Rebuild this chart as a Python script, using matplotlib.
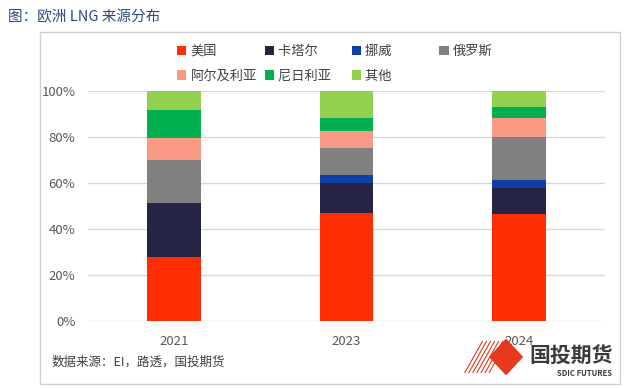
import numpy as np
import matplotlib.pyplot as plt
from matplotlib.patches import Rectangle, Polygon

plt.rcParams['font.family'] = ['Noto Sans CJK SC', 'DejaVu Sans']

years = ["2021", "2023", "2024"]
sources = ["美国", "卡塔尔", "挪威", "俄罗斯", "阿尔及利亚", "尼日利亚", "其他"]
us = [27.7, 46.8, 46.4]
qatar = [23.6, 13.3, 11.6]
norway = [0.0, 3.5, 3.4]
russia = [18.6, 11.6, 18.5]
algeria = [9.8, 7.3, 8.4]
nigeria = [12.0, 5.8, 4.9]
other = [8.3, 11.7, 6.8]
colors = ["#FF2E00", "#262445", "#0E3FA6", "#808080", "#FA9A85", "#00B050", "#92D050"]

series = [us, qatar, norway, russia, algeria, nigeria, other]

fig = plt.figure(figsize=(6.24, 3.88), dpi=100)
ax = fig.add_axes([0.141, 0.173, 0.829, 0.5925])

x = np.arange(len(years))
bottom = np.zeros(len(years))
handles = []
for name, vals, c in zip(sources, series, colors):
    b = ax.bar(x, vals, 0.31, bottom=bottom, color=c, label=name, zorder=3)
    handles.append(b)
    bottom += np.array(vals)

ax.set_xlim(-0.5, 2.5)
ax.set_ylim(0, 100)
ax.set_yticks(np.arange(0, 101, 20))
ax.set_yticklabels([f"{v}%" for v in range(0, 101, 20)])
ax.set_xticks(x)
ax.set_xticklabels(years)
ax.tick_params(axis='both', length=0, labelsize=9.5, colors="#595959")
ax.tick_params(axis='y', pad=9)
ax.tick_params(axis='x', pad=10)
ax.grid(axis='y', color="#D9D9D9", linewidth=1, zorder=0)
for s in ax.spines.values():
    s.set_visible(False)

# legend filled row by row; ideographic spaces keep columns evenly spaced
order = [0, 4, 1, 5, 2, 6, 3]
pad = {"卡塔尔": "\u3000\u3000", "尼日利亚": "\u3000", "挪威": "\u3000\u3000\u3000",
       "其他": "\u3000\u3000\u3000"}
labels = [sources[i] + pad.get(sources[i], "") for i in order]
leg = fig.legend([handles[i] for i in order], labels,
                 loc='upper left', bbox_to_anchor=(0.265, 0.915), ncol=4,
                 frameon=False, fontsize=9.5, handlelength=0.7, handleheight=0.7,
                 handletextpad=0.3, columnspacing=0.6, labelspacing=0.9)
for t in leg.get_texts():
    t.set_color("#404040")

# outer frame
fig.patches.append(Rectangle((40 / 624, 1 - 384 / 388), 580 / 624, 352 / 388,
                             transform=fig.transFigure, fill=False,
                             edgecolor="#D0D0D0", linewidth=1))

fig.text(8 / 624, 1 - 17 / 388, "图：欧洲 LNG 来源分布", fontsize=10.5,
         color="#2B4A7E", va='center', ha='left')
fig.text(52 / 624, 1 - 362 / 388, "数据来源：EI，路透，国投期货", fontsize=9,
         color="#404040", va='center', ha='left')

# logo
fig.text(613 / 624, 1 - 356 / 388, "国投期货", fontsize=15, fontweight='bold',
         color="#3A3A3A", va='center', ha='right')
fig.text(612 / 624, 1 - 374 / 388, "SDIC FUTURES", fontsize=5.5, fontweight='bold',
         color="#3A3A3A", va='center', ha='right')
fig.patches.append(Polygon([(0.785, 0.08), (0.811, 0.125), (0.837, 0.08), (0.811, 0.035)],
                           closed=True, transform=fig.transFigure, color="#E8381E"))
for i in range(7):
    x0 = 0.745 + i * 0.0065
    fig.lines.append(plt.Line2D([x0, x0 + 0.028], [0.04, 0.12], transform=fig.transFigure,
                                color="#E8381E", linewidth=0.8))

fig.savefig("out.png", dpi=100, facecolor="white")
